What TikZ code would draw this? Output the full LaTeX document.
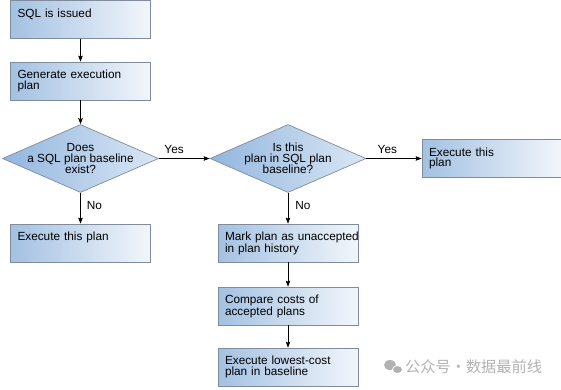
\documentclass[tikz,border=0pt]{standalone}
\usepackage{fontspec}
\setmainfont{Liberation Sans}
\newfontfamily\cjkfont{Noto Sans CJK SC}
\definecolor{flowBlue}{RGB}{163,193,226}
\definecolor{flowPale}{RGB}{242,246,251}
\definecolor{flowDeep}{RGB}{146,182,222}
\definecolor{flowSoft}{RGB}{218,231,245}
\definecolor{flowEdge}{RGB}{128,140,155}
\usepackage{tikz}
\usetikzlibrary{arrows.meta,positioning,shapes.geometric}

\begin{document}
\begin{tikzpicture}[x=1pt, y=-1pt,
    stepbox/.style={rectangle, draw=flowEdge, left color=flowBlue, right color=flowPale,
                minimum width=140pt, text width=126pt, inner xsep=7pt, inner ysep=0pt,
                text height=16.6pt, text depth=21.4pt, align=left,
                font=\fontsize{11.8}{10.8}\selectfont, line width=0.7pt},
    query/.style={diamond, aspect=2.3, draw=flowEdge, left color=flowDeep, right color=flowSoft,
                minimum width=156pt, minimum height=68pt, inner sep=-10pt,
                align=center, font=\fontsize{11.8}{11.2}\selectfont, line width=0.7pt},
    flow/.style={-{Stealth[length=6pt, width=4.5pt, inset=1pt]}, line width=0.6pt},
    answer/.style={font=\fontsize{11.8}{12}\selectfont, inner sep=2pt},
    stamp/.style={font=\cjkfont\fontsize{15.2}{16}\selectfont, text=black!30, inner sep=0pt}
  ]
  \useasboundingbox (0,0) rectangle (561,389);

  \node[stepbox] (issued)   at (80.5,19.5) {SQL is issued};
  \node[stepbox] (generate) at (80.5,81)   {Generate execution\\plan};
  \node[query]   (exists)   at (80.5,158.5) {Does\\a SQL plan baseline\\exist?};
  \node[stepbox] (runnew)   at (80.5,243)  {Execute this plan};
  \node[query]   (inplan)   at (288,158.5) {Is this\\plan in SQL plan\\baseline?};
  \node[stepbox] (runold)   at (492,158.5) {Execute this\\plan};
  \node[stepbox] (reject)   at (288,243)   {\mbox{Mark plan as unaccepted}\\in plan history};
  \node[stepbox] (compare)  at (288,306)   {Compare costs of\\accepted plans};
  \node[stepbox] (cheapest) at (288,367)   {Execute lowest-cost\\plan in baseline};

  \draw[flow] (issued) -- (generate);
  \draw[flow] (generate) -- (exists);
  \draw[flow] (exists) -- node[answer, above=3pt, pos=0.3] {Yes} (inplan);
  \draw[flow] (exists) -- node[answer, right=4pt, pos=0.4] {No} (runnew);
  \draw[flow] (inplan) -- node[answer, above=3pt, pos=0.38] {Yes} (runold);
  \draw[flow] (inplan) -- node[answer, right=5pt, pos=0.4] {No} (reject);
  \draw[flow] (reject) -- (compare);
  \draw[flow] (compare) -- (cheapest);

  % watermark
  \fill[black!30] (390,365) ellipse [x radius=6pt, y radius=5pt];
  \fill[black!30, draw=white, line width=0.8pt] (397.5,369.5) ellipse [x radius=5pt, y radius=4pt];
  \node[stamp, anchor=west] (brand) at (405,367) {公众号·数据最前线};
\end{tikzpicture}
\end{document}
